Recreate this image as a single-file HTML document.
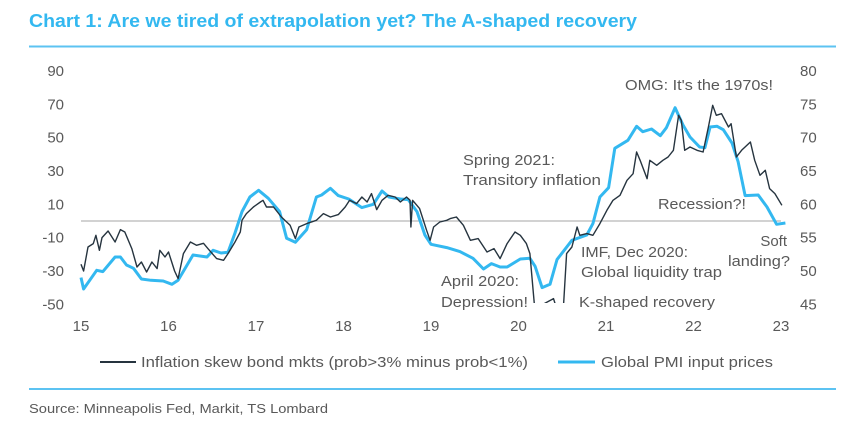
<!DOCTYPE html>
<html><head><meta charset="utf-8"><style>
html,body{margin:0;padding:0;background:#fff;}
svg{display:block;font-family:"Liberation Sans Narrow","Liberation Sans",sans-serif;}
</style></head><body>
<svg id="chart" width="849" height="438" viewBox="0 0 849 438">
<text x="29" y="27" font-size="18" font-weight="bold" fill="#33b8f0" textLength="608" lengthAdjust="spacingAndGlyphs" font-family="Liberation Sans, sans-serif">Chart 1: Are we tired of extrapolation yet? The A-shaped recovery</text>
<line x1="29" y1="46.5" x2="836" y2="46.5" stroke="#5cc3f2" stroke-width="2"/>
<g id="axes"></g>
<defs><clipPath id="clip"><rect x="70" y="60" width="720" height="243"/></clipPath></defs>
<g id="series" clip-path="url(#clip)"></g>
<g fill="#595959" font-size="15">
<text x="625" y="90" textLength="148" lengthAdjust="spacingAndGlyphs">OMG: It's the 1970s!</text>
<text x="463" y="165" textLength="92" lengthAdjust="spacingAndGlyphs">Spring 2021:</text>
<text x="463" y="185" textLength="138" lengthAdjust="spacingAndGlyphs">Transitory inflation</text>
<text x="658" y="209" textLength="88" lengthAdjust="spacingAndGlyphs">Recession?!</text>
<text x="787" y="246" text-anchor="end">Soft</text>
<text x="790" y="266" text-anchor="end" textLength="62" lengthAdjust="spacingAndGlyphs">landing?</text>
<text x="581" y="257" textLength="107" lengthAdjust="spacingAndGlyphs">IMF, Dec 2020:</text>
<text x="581" y="277" textLength="141" lengthAdjust="spacingAndGlyphs">Global liquidity trap</text>
<text x="441" y="286" textLength="78" lengthAdjust="spacingAndGlyphs">April 2020:</text>
<text x="441" y="307" textLength="87" lengthAdjust="spacingAndGlyphs">Depression!</text>
<text x="579" y="307" textLength="136" lengthAdjust="spacingAndGlyphs">K-shaped recovery</text>
</g>
<g>
<line x1="100" y1="362" x2="136" y2="362" stroke="#26343f" stroke-width="2"/>
<text x="141" y="367" font-size="15" fill="#595959" textLength="387" lengthAdjust="spacingAndGlyphs">Inflation skew bond mkts (prob&gt;3% minus prob&lt;1%)</text>
<line x1="558" y1="362" x2="595" y2="362" stroke="#33b8f0" stroke-width="3"/>
<text x="601" y="367" font-size="15" fill="#595959" textLength="172" lengthAdjust="spacingAndGlyphs">Global PMI input prices</text>
</g>
<line x1="29" y1="389" x2="836" y2="389" stroke="#5cc3f2" stroke-width="2"/>
<text x="29" y="413" font-size="13" fill="#595959" textLength="299" lengthAdjust="spacingAndGlyphs">Source: Minneapolis Fed, Markit, TS Lombard</text>
</svg>
<script>
const skewDates=[15.00,15.03,15.08,15.14,15.17,15.21,15.24,15.31,15.39,15.45,15.50,15.58,15.64,15.69,15.75,15.81,15.87,15.90,15.96,16.00,16.07,16.11,16.17,16.25,16.32,16.40,16.45,16.55,16.63,16.68,16.76,16.82,16.84,16.89,16.97,17.05,17.08,17.12,17.20,17.29,17.39,17.45,17.49,17.58,17.69,17.77,17.85,17.94,18.02,18.07,18.15,18.21,18.27,18.32,18.38,18.44,18.51,18.59,18.65,18.72,18.76,18.77,18.79,18.87,18.95,18.99,19.03,19.10,19.18,19.22,19.29,19.37,19.45,19.54,19.64,19.72,19.79,19.87,19.96,20.02,20.09,20.13,20.17,20.19,20.28,20.40,20.45,20.51,20.55,20.61,20.67,20.70,20.78,20.85,20.93,21.01,21.08,21.16,21.24,21.31,21.35,21.39,21.47,21.50,21.58,21.65,21.71,21.77,21.83,21.86,21.90,21.96,22.04,22.11,22.17,22.22,22.26,22.32,22.40,22.43,22.49,22.55,22.65,22.70,22.76,22.82,22.87,22.93,23.01];
const skewValues=[-26,-30,-15.6,-13.6,-8.6,-17.6,-10,-6,-12.6,-5.2,-6.6,-16.6,-27.6,-24.6,-30.6,-24.6,-28.6,-17.6,-21.6,-18.6,-30,-34.6,-19.6,-12.6,-14.6,-13.4,-16.6,-22.6,-23.6,-19.6,-12.6,-6.6,0.4,4.4,8.4,11.4,12.4,8.4,8.4,2.4,-2.6,-10.6,-3.6,-1.6,0.4,4.4,2.4,3.8,8.4,12.4,10.4,14.4,11.4,16.4,6.8,12.4,15.4,14.4,11.4,14.4,12.4,-3.6,12.4,7.4,-5.6,-11.6,-3.6,-0.6,0.4,1.4,2.4,-2.6,-11.6,-10.6,-18.6,-16.6,-22.6,-13.6,-6.6,-8.6,-13.6,-19.6,-43.6,-55,-50,-46.6,-55,-55,-19.6,-15.6,-3.6,-8.6,-7.6,-8.6,-1.6,6.4,12.4,15.4,24.4,28.4,41.4,36.4,25.4,36.4,33.4,36.4,38.4,42.4,63.4,60.4,42.4,44.4,42.4,41.4,56.4,69.4,63.4,64.4,56.4,58.4,38.4,42.4,47.4,36.4,27.4,30.4,19.4,16.4,9.4];
const pmiDates=[15.00,15.03,15.18,15.25,15.39,15.45,15.52,15.60,15.69,15.80,15.94,16.04,16.11,16.28,16.44,16.51,16.60,16.68,16.76,16.84,16.93,17.03,17.14,17.27,17.35,17.45,17.58,17.69,17.75,17.85,17.94,18.06,18.21,18.34,18.44,18.52,18.65,18.74,18.84,18.93,19.00,19.18,19.33,19.48,19.60,19.69,19.79,19.87,20.02,20.13,20.19,20.27,20.36,20.44,20.61,20.78,20.85,20.93,21.03,21.10,21.25,21.35,21.42,21.52,21.62,21.69,21.79,21.88,21.96,22.07,22.13,22.19,22.27,22.34,22.44,22.51,22.59,22.74,22.84,22.95,23.05];
const pmiValues=[49.0,47.3,50.1,49.9,52.1,52.1,50.9,50.4,48.8,48.6,48.5,48.0,48.6,52.4,52.1,53.1,52.7,52.8,55.7,58.9,61.1,62.1,60.9,58.9,54.9,54.3,56.2,61.1,61.4,62.4,61.3,60.8,59.5,60.0,62.0,61.1,60.8,60.7,58.9,55.4,54.0,53.5,52.9,51.9,50.3,51.1,50.6,50.6,51.8,51.9,50.7,47.5,48.0,51.7,54.6,55.4,57.1,61.1,62.5,68.4,69.6,71.7,70.9,71.3,70.3,71.5,74.5,71.9,70.1,68.6,68.5,71.6,71.7,71.2,69.2,66.4,61.3,61.4,59.6,57.0,57.2];
const leftTicks=[90,70,50,30,10,-10,-30,-50];
const rightTicks=[80,75,70,65,60,55,50,45];
const xTicks=[15,16,17,18,19,20,21,22,23];

const NS='http://www.w3.org/2000/svg';
const X0=81,X1=781,YT=71,YB=304.3;
function xs(t){return X0+(t-15)/8*(X1-X0);}
function yl(v){return YB-(v+50)/140*(YB-YT);}
function yr(v){return YB-(v-45)/35*(YB-YT);}
function mk(tag,attrs,parent){const e=document.createElementNS(NS,tag);for(const k in attrs)e.setAttribute(k,attrs[k]);parent.appendChild(e);return e;}
const axes=document.getElementById('axes');
const ser=document.getElementById('series');

leftTicks.forEach(v=>{
  const t=mk('text',{x:64,y:yl(v)+5,'text-anchor':'end','font-size':15,fill:'#595959'},axes);
  t.textContent=v;
  
  
});
rightTicks.forEach(v=>{
  const t=mk('text',{x:800,y:yr(v)+5,'font-size':15,fill:'#595959'},axes);
  t.textContent=v;
  
  
});
xTicks.forEach(v=>{
  const t=mk('text',{x:xs(v),y:331,'text-anchor':'middle','font-size':15,fill:'#595959'},axes);
  t.textContent=v;
  
  
});
const zl=mk('line',{x1:X0,x2:X1,y1:yl(0),y2:yl(0),stroke:'#a6a6a6','stroke-width':1},axes);



const pp=mk('path',{d:pmiDates.map((t,i)=>(i?'L':'M')+xs(t).toFixed(1)+','+yr(pmiValues[i]).toFixed(1)).join(''),fill:'none',stroke:'#33b8f0','stroke-width':3,'stroke-linejoin':'round'},ser);


const sp=mk('path',{d:skewDates.map((t,i)=>(i?'L':'M')+xs(t).toFixed(1)+','+yl(skewValues[i]).toFixed(1)).join(''),fill:'none',stroke:'#26343f','stroke-width':1.4,'stroke-linejoin':'round'},ser);


</script>
</body></html>
